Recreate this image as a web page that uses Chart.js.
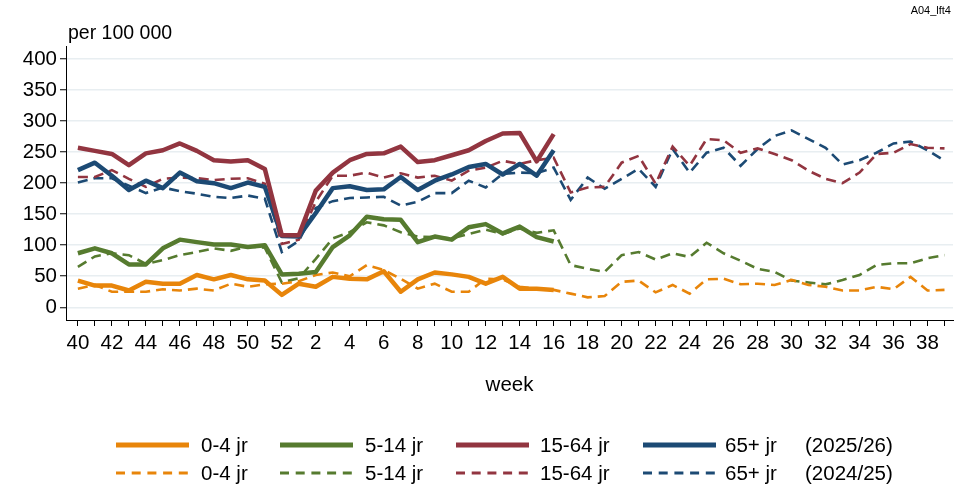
<!DOCTYPE html>
<html>
<head>
<meta charset="utf-8">
<script src="https://cdn.jsdelivr.net/npm/chart.js@4.4.1/dist/chart.umd.min.js"></script>
<style>
  body { margin: 0; background: #fff; }
  #wrap { position: relative; width: 954px; height: 488px; font-family: "Liberation Sans", Arial, sans-serif; color: #000; }
  #chartCanvas { position: absolute; left: 0; top: 0; }
  .t { position: absolute; white-space: nowrap; line-height: 1; }
  .mid { transform: translateY(-50%); }
</style>
</head>
<body>
<div id="wrap">
  <canvas id="chartCanvas" width="954" height="488"></canvas>
  <div class="t" style="right:3px; top:5px; font-size:11px;">A04_lft4</div>
  <div class="t" style="left:68px; top:23px; font-size:19.5px;">per 100 000</div>
  <div id="legend"></div>
</div>
<script>
// weeks 40..52, then 1..39
const weeks = [40, 41, 42, 43, 44, 45, 46, 47, 48, 49, 50, 51, 52,
  1, 2, 3, 4, 5, 6, 7, 8, 9, 10, 11, 12, 13, 14, 15, 16, 17, 18, 19, 20,
  21, 22, 23, 24, 25, 26, 27, 28, 29, 30, 31, 32, 33, 34, 35, 36, 37, 38, 39];
const yTicks = [0, 50, 100, 150, 200, 250, 300, 350, 400];

const ageGroups = ['0-4 jr', '5-14 jr', '15-64 jr', '65+ jr'];
const seasons = ['(2025/26)', '(2024/25)'];
const colors = ['#e8850a', '#567b2f', '#923540', '#1c4a74'];

// season 2025/26 (up to week 16)
const age04_2526 = [43, 35, 35, 27, 41, 38, 38, 52, 45, 52, 45, 43, 20,
  38, 33, 49, 46, 45, 58, 25, 45, 56, 53, 49, 38, 49, 30, 30, 28];
const age514_2526 = [87, 95, 87, 69, 69, 95, 109, 105, 101, 101, 97, 100, 53,
  54, 57, 97, 116, 146, 142, 141, 105, 114, 109, 129, 134, 119, 130, 113, 106];
const age1564_2526 = [257, 252, 247, 229, 248, 253, 264, 252, 237, 235, 237, 223, 116,
  116, 188, 217, 237, 247, 248, 259, 234, 237, 245, 253, 268, 280, 281, 235, 279];
const age65_2526 = [221, 233, 212, 189, 204, 192, 217, 203, 200, 192, 201, 194, 115,
  114, 152, 192, 195, 189, 190, 210, 189, 204, 214, 226, 231, 214, 231, 212, 253];

// season 2024/25 (full year)
const age04_2425 = [30, 36, 25, 25, 25, 29, 27, 30, 27, 38, 33, 37, 38,
  42, 52, 56, 50, 68, 60, 46, 30, 38, 25, 25, 46, 45, 33, 30, 28, 22, 16, 18, 41,
  43, 24, 36, 22, 45, 46, 37, 38, 36, 44, 36, 33, 27, 27, 33, 29, 49, 27, 28];
const age514_2425 = [65, 82, 87, 84, 70, 76, 84, 89, 95, 91, 98, 96, 40,
  47, 78, 111, 121, 137, 132, 121, 114, 113, 111, 118, 125, 118, 127, 120, 124, 68, 62, 57, 84,
  89, 77, 87, 81, 104, 87, 75, 62, 57, 43, 40, 37, 44, 52, 68, 71, 71, 79, 84];
const age1564_2425 = [210, 210, 221, 207, 194, 207, 209, 208, 205, 207, 208, 199, 102,
  109, 170, 212, 212, 217, 209, 216, 209, 212, 204, 220, 225, 236, 231, 237, 241, 185, 193, 194, 233,
  244, 199, 259, 228, 271, 269, 249, 256, 247, 237, 220, 207, 200, 217, 247, 249, 263, 257, 256];
const age65_2425 = [201, 208, 208, 196, 184, 193, 187, 183, 178, 176, 180, 175, 89,
  107, 160, 171, 176, 177, 178, 164, 170, 184, 184, 204, 193, 215, 217, 216, 225, 173, 209, 191, 207,
  223, 194, 255, 217, 249, 257, 228, 255, 276, 285, 271, 257, 230, 237, 249, 264, 267, 253, 236];

const current = [age04_2526, age514_2526, age1564_2526, age65_2526];
const previous = [age04_2425, age514_2425, age1564_2425, age65_2425];

const FONT = '"Liberation Sans", Arial, sans-serif';
const toPoints = vals => vals.map((v, i) => ({ x: i, y: v }));

const datasets = [];
current.forEach((vals, k) => datasets.push({
  label: ageGroups[k] + ' ' + seasons[0],
  data: toPoints(vals),
  borderColor: colors[k],
  borderWidth: 4.5,
  borderJoinStyle: 'round',
  pointRadius: 0,
  tension: 0
}));
previous.forEach((vals, k) => datasets.push({
  label: ageGroups[k] + ' ' + seasons[1],
  data: toPoints(vals),
  borderColor: colors[k],
  borderWidth: 2.6,
  borderDash: [10, 6],
  pointRadius: 0,
  tension: 0
}));

const ctx = document.getElementById('chartCanvas').getContext('2d');
new Chart(ctx, {
  type: 'line',
  data: { datasets: datasets },
  options: {
    responsive: false,
    animation: false,
    events: [],
    layout: { padding: { top: 46, right: 1, bottom: 83, left: 0 } },
    plugins: { legend: { display: false }, tooltip: { enabled: false } },
    scales: {
      x: {
        type: 'linear',
        min: -0.7,
        max: 51.5,
        afterBuildTicks: s => { s.ticks = weeks.map((w, i) => ({ value: i })); },
        afterFit: s => { s.height = 85; },
        ticks: {
          autoSkip: false, maxRotation: 0, padding: 5, color: '#000',
          font: { size: 20.5, family: FONT },
          callback: v => (weeks[v] % 2 === 0 ? String(weeks[v]) : '')
        },
        grid: { drawOnChartArea: false, tickLength: 6, tickColor: '#000', tickWidth: 1 },
        border: { display: true, color: '#000', width: 1 },
        title: { display: true, text: 'week', color: '#000', font: { size: 20.5, family: FONT }, padding: { top: 0, bottom: 7 } }
      },
      y: {
        min: -20.5,
        max: 421,
        afterBuildTicks: s => { s.ticks = yTicks.map(v => ({ value: v })); },
        afterFit: s => { s.width = 66; },
        ticks: { padding: 3, color: '#000', font: { size: 20.5, family: FONT } },
        grid: { color: '#e8eef1', lineWidth: 1.5, tickColor: '#000', tickLength: 6, tickWidth: 1 },
        border: { display: true, color: '#000', width: 1 }
      }
    }
  }
});

// legend: two rows (season) x four age groups
const legend = document.getElementById('legend');
const lineX = [116, 280, 456, 643];
const textX = [201, 365, 540, 725];
const rowY = [445, 473];
seasons.forEach((season, r) => {
  ageGroups.forEach((grp, k) => {
    const solid = r === 0;
    const svg = '<svg width="73" height="8" style="position:absolute;left:' + lineX[k] + 'px;top:' + (rowY[r] - 4) + 'px">' +
      '<line x1="0" y1="4" x2="73" y2="4" stroke="' + colors[k] + '" stroke-width="' + (solid ? 5 : 3) + '"' +
      (solid ? '' : ' stroke-dasharray="9 6.7"') + '/></svg>';
    legend.insertAdjacentHTML('beforeend', svg);
    legend.insertAdjacentHTML('beforeend',
      '<div class="t mid" style="left:' + textX[k] + 'px;top:' + rowY[r] + 'px;font-size:20.5px;">' + grp + '</div>');
  });
  legend.insertAdjacentHTML('beforeend',
    '<div class="t mid" style="left:805px;top:' + rowY[r] + 'px;font-size:20.5px;">' + season + '</div>');
});
</script>
</body>
</html>
